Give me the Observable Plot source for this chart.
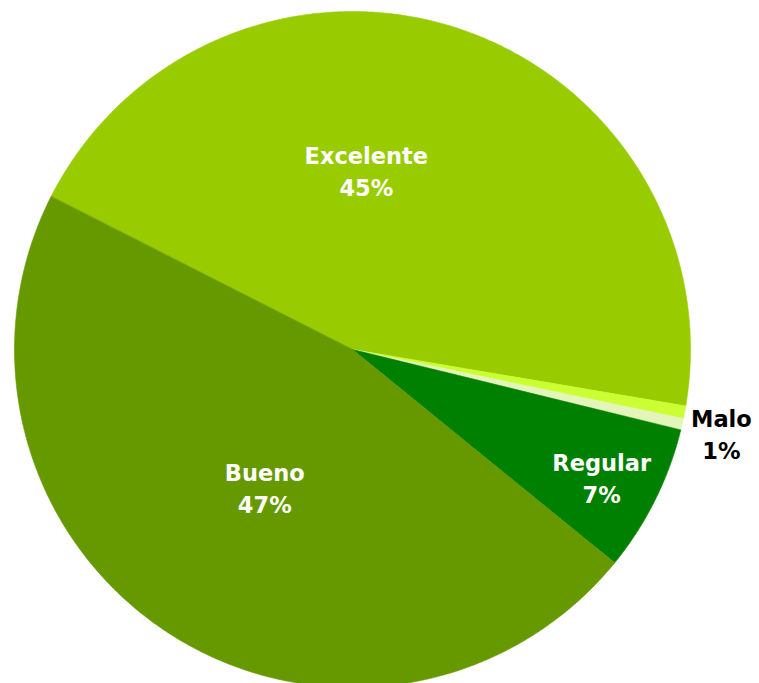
<!DOCTYPE html>
<html><head><meta charset="utf-8">
<script src="https://cdn.jsdelivr.net/npm/d3@7"></script>
<script src="https://cdn.jsdelivr.net/npm/@observablehq/plot@0.6"></script>
<style>body{margin:0;background:#fff;overflow:hidden}</style>
</head><body><div id="chart"></div>
<script>
// Data (clockwise from the first slice)
const categories = ["Excelente", "Pésimo", "Malo", "Regular", "Bueno"];
const values = [45.2, 0.6, 0.55, 7.05, 46.6];
const colors = ["#99CC00", "#CCFF33", "#E3F5B8", "#008000", "#669900"];
const showLabel = [true, false, true, true, true];
const labelColors = ["#ffffff", "#000000", "#000000", "#ffffff", "#ffffff"];

// Layout / style (not data)
const W = 759, H = 683, CX = 352, CY = 349, R = 338;
const startDeg = -63.1; // from 12 o'clock, clockwise
const labelLayout = {
  "Excelente": {r: 0.527, shift: -13.8},
  "Malo": {r: 1.12, shift: 0.2},
  "Regular": {r: 0.83, shift: 0.9},
  "Bueno": {r: 0.487, shift: -0.8}
};

const total = d3.sum(values);
const rows = categories.map((c, i) => ({cat: c, value: values[i], color: colors[i], show: showLabel[i], labelColor: labelColors[i]}));
const arcs = d3.pie().sort(null).value(d => d.value)
  .startAngle(startDeg * Math.PI / 180)
  .endAngle(startDeg * Math.PI / 180 + 2 * Math.PI)(rows);

// geometry of each slice in unit-circle coordinates (screen orientation)
function slicePoly(a) {
  const pts = [{x: 0, y: 0}];
  const a0 = a.startAngle - Math.PI / 2, a1 = a.endAngle - Math.PI / 2;
  const n = Math.max(2, Math.ceil((a1 - a0) / (Math.PI / 360)));
  for (let k = 0; k <= n; k++) {
    const t = a0 + (a1 - a0) * k / n;
    pts.push({x: Math.cos(t), y: Math.sin(t)});
  }
  return pts;
}

const labels = arcs.filter(a => a.data.show).map(a => {
  const L = labelLayout[a.data.cat];
  const mid = (a.startAngle + a.endAngle) / 2 - Math.PI / 2 + L.shift * Math.PI / 180;
  return {
    x: L.r * Math.cos(mid), y: L.r * Math.sin(mid),
    text: a.data.cat + "\n" + Math.round(a.data.value / total * 100) + "%",
    color: a.data.labelColor
  };
});

const chart = Plot.plot({
  width: W, height: H,
  margin: 0,
  style: {background: "#fff"},
  x: {domain: [-CX / R, (W - CX) / R], range: [0, W], axis: null},
  y: {domain: [-CY / R, (H - CY) / R], range: [0, H], axis: null},
  color: {type: "identity"},
  marks: [
    ...arcs.map(a => Plot.line(slicePoly(a), {
      x: "x", y: "y", curve: "linear-closed",
      fill: a.data.color, stroke: a.data.color, strokeWidth: 0.6
    })),
    Plot.text(labels, {
      x: "x", y: "y", text: "text", fill: "color", dy: -2,
      fontFamily: "DejaVu Sans", fontWeight: "bold", fontSize: 22.5,
      lineHeight: 1.42, lineAnchor: "middle", textAnchor: "middle"
    })
  ]
});
document.getElementById("chart").appendChild(chart);
</script>
</body></html>
